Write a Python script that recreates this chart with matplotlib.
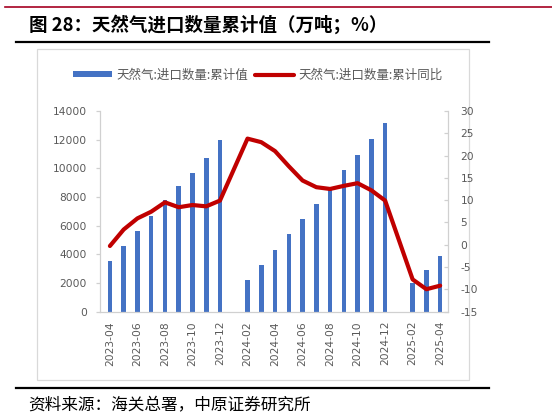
import matplotlib
matplotlib.use('Agg')
import matplotlib.pyplot as plt
from matplotlib.lines import Line2D
from matplotlib.patches import Patch, Rectangle
import numpy as np

months = ['2023-04', '2023-05', '2023-06', '2023-07', '2023-08', '2023-09', '2023-10',
          '2023-11', '2023-12', '2024-01', '2024-02', '2024-03', '2024-04', '2024-05',
          '2024-06', '2024-07', '2024-08', '2024-09', '2024-10', '2024-11', '2024-12',
          '2025-01', '2025-02', '2025-03', '2025-04']
import_volume = [3520, 4600, 5620, 6650, 7770, 8750, 9640, 10710, 11970, None,
                 2170, 3270, 4270, 5390, 6440, 7510, 8660, 9870, 10920, 12020, 13140, None,
                 1980, 2920, 3870]
yoy = [-0.3, 3.4, 5.9, 7.4, 9.5, 8.4, 8.9, 8.6, 9.9, None,
       23.8, 23.0, 21.0, 17.6, 14.4, 12.9, 12.5, 13.2, 13.8, 12.2, 9.9, None,
       -7.8, -10.0, -9.2]
left_ticks = [0, 2000, 4000, 6000, 8000, 10000, 12000, 14000]
right_ticks = [-15, -10, -5, 0, 5, 10, 15, 20, 25, 30]
bar_label = '天然气:进口数量:累计值'
line_label = '天然气:进口数量:累计同比'
title = '图 28：天然气进口数量累计值（万吨；%）'
source = '资料来源：海关总署，中原证券研究所'

W, H = 552, 420
fig = plt.figure(figsize=(W / 100, H / 100), dpi=100)
cjk = ['Noto Sans CJK SC', 'DejaVu Sans']

def fx(x):
    return x / W

def fy(y):
    return 1 - y / H

ax = fig.add_axes([fx(100), fy(311.5), (448 - 100) / W, (311.5 - 111) / H])
ax2 = ax.twinx()

x = np.arange(len(months))
bx = [i for i, v in enumerate(import_volume) if v is not None]
bv = [import_volume[i] for i in bx]
ax.bar(bx, bv, width=0.33, color='#4472C4', zorder=2)

lx = [i for i, v in enumerate(yoy) if v is not None]
lv = [yoy[i] for i in lx]
ax2.plot(lx, lv, color='#C00000', lw=3.0, solid_joinstyle='round', solid_capstyle='round', zorder=3)

ax.set_xlim(-0.72, 24.57)
ax.set_ylim(0, 14000)
ax2.set_ylim(-15, 30)
ax.set_yticks(left_ticks)
ax.set_yticklabels([str(t) for t in left_ticks])
ax2.set_yticks(right_ticks)
ax2.set_yticklabels([str(t) for t in right_ticks])
ax.set_xticks(x[::2])
ax.set_xticklabels(months[::2], rotation=90)

grey = '#595959'
axcol = '#D0D0D0'
for a in (ax, ax2):
    a.spines['top'].set_visible(False)
    for s in ('left', 'right', 'bottom'):
        a.spines[s].set_color(axcol)
        a.spines[s].set_linewidth(0.9)
    a.set_zorder(1)
ax2.set_zorder(2)
ax.spines['right'].set_visible(False)
ax2.spines['left'].set_visible(False)
ax2.spines['bottom'].set_visible(False)
ax.patch.set_visible(False)

ax.tick_params(axis='x', length=0, pad=6.8, labelsize=7.7, labelcolor=grey)
ax.tick_params(axis='y', direction='out', length=2.9, width=0.9, color=axcol, pad=6.7,
               labelsize=7.7, labelcolor=grey)
ax2.tick_params(axis='y', direction='in', length=2.9, width=0.9, color=axcol, pad=9.1,
                labelsize=7.7, labelcolor=grey)

# legend
handles = [Patch(facecolor='#4472C4', edgecolor='none'),
           Line2D([0], [0], color='#C00000', lw=3.0, solid_capstyle='round')]
leg = fig.legend(handles, [bar_label, line_label], loc='center',
                 bbox_to_anchor=(fx(258), fy(75)), ncol=2, frameon=False,
                 prop={'family': cjk, 'size': 9}, handlelength=3.1, handleheight=0.45,
                 handletextpad=0.35, columnspacing=0.55, borderpad=0, borderaxespad=0)
for t in leg.get_texts():
    t.set_color(grey)

# chart frame
fig.add_artist(Rectangle((fx(37), fy(380)), (469 - 37) / W, (380 - 49) / H, fill=False,
                         edgecolor='#D9D9D9', lw=0.9, transform=fig.transFigure))
# decorative lines
fig.add_artist(Line2D([fx(5), fx(552)], [fy(6.7), fy(6.7)], color='#A50021', lw=1.2,
                      transform=fig.transFigure))
fig.add_artist(Line2D([fx(16), fx(489)], [fy(41.7), fy(41.7)], color='black', lw=1.6,
                      transform=fig.transFigure))
fig.add_artist(Line2D([fx(16), fx(489)], [fy(388.3), fy(388.3)], color='black', lw=1.6,
                      transform=fig.transFigure))

fig.text(fx(29), fy(25), title, family=cjk, fontsize=13.3, fontweight='bold',
         ha='left', va='center', color='black')
fig.text(fx(28), fy(406), source, family=cjk, fontsize=12, ha='left', va='center',
         color='black')

fig.savefig('out.png', dpi=100)
